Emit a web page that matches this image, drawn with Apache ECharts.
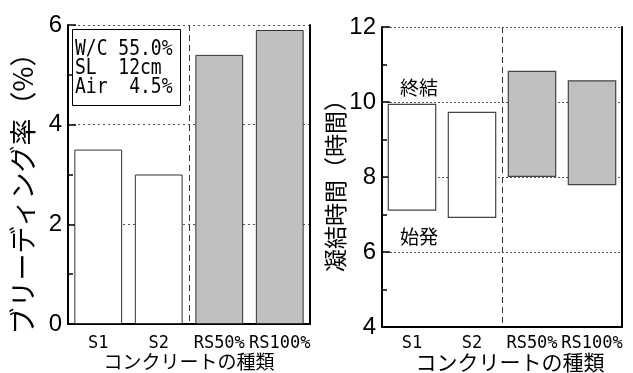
<!DOCTYPE html>
<html>
<head>
<meta charset="utf-8">
<script src="https://cdn.jsdelivr.net/npm/echarts@6/dist/echarts.min.js"></script>
<style>
  html, body { margin: 0; padding: 0; background: #fff; }
  #chart { width: 633px; height: 373px; }
</style>
</head>
<body>
<div id="chart"></div>
<script>
// Concrete types
const categories = ['S1', 'S2', 'RS50%', 'RS100%'];
// Bleeding rate (%)
const bleedingRate = [3.50, 3.00, 5.40, 5.90];
// Setting time (hours): initial set and final set
const initialSet = [7.10, 6.91, 8.00, 7.78];
const finalSet = [9.95, 9.74, 10.83, 10.58];
// Axis ranges
const bleedTicks = { min: 0, max: 6, interval: 2 };
const setTicks = { min: 4, max: 12, interval: 2 };
// Mix conditions shown in the note box
const mixNotes = ['W/C 55.0%', 'SL  12cm', 'Air  4.5%'];

const WHITE = '#ffffff';
const GREY = '#c0c0c0';
const fills = ['white', 'white', 'grey', 'grey'].map(k => (k === 'grey' ? GREY : WHITE));

const jpFont = '"Noto Sans CJK JP", sans-serif';
const monoFont = '"DejaVu Sans Mono", monospace';
const numFont = '"Liberation Sans", Arial, sans-serif';

function xAxisFor(gridIndex, margin) {
  return {
    type: 'category',
    gridIndex,
    data: categories,
    boundaryGap: true,
    axisLine: { lineStyle: { color: '#000', width: 2 } },
    axisTick: { show: false },
    axisLabel: { color: '#000', fontFamily: monoFont, fontSize: 17, margin, interval: 0 },
    splitLine: { show: false }
  };
}

// hidden linear axis spanning the four category slots; its middle split line
// separates the plain mixes from the recycled-sand mixes
function separatorAxis(gridIndex) {
  return {
    type: 'value',
    gridIndex,
    min: 0,
    max: 4,
    interval: 2,
    position: 'top',
    axisLine: { show: false },
    axisTick: { show: false },
    axisLabel: { show: false },
    splitLine: {
      show: true,
      showMinLine: false,
      showMaxLine: false,
      lineStyle: { color: '#333', type: [6, 4], width: 1 }
    }
  };
}

function yAxisFor(gridIndex, ticks, dash) {
  return {
    type: 'value',
    gridIndex,
    min: ticks.min,
    max: ticks.max,
    interval: ticks.interval,
    axisLine: { show: true, lineStyle: { color: '#000', width: 2 } },
    axisTick: { show: true, inside: true, length: 8, lineStyle: { color: '#000', width: 1.5 } },
    minorTick: { show: true, splitNumber: 2, length: 5, lineStyle: { color: '#000', width: 1.5 } },
    axisLabel: { color: '#000', fontFamily: numFont, fontSize: 24, margin: 6, padding: [0, 0, 7, 0] },
    splitLine: { show: true, lineStyle: { color: '#555', type: dash, width: 1 } }
  };
}

function rightFrame(gridIndex) {
  return {
    type: 'value',
    gridIndex,
    position: 'right',
    axisLine: { show: true, lineStyle: { color: '#000', width: 2 } },
    axisTick: { show: false },
    axisLabel: { show: false },
    splitLine: { show: false }
  };
}

const chart = echarts.init(document.getElementById('chart'), null, { renderer: 'canvas' });

chart.setOption({
  animation: false,
  backgroundColor: '#fff',
  grid: [
    { left: 68, top: 25, width: 242, height: 299 },
    { left: 382, top: 27, width: 240, height: 300 }
  ],
  xAxis: [xAxisFor(0, 11), xAxisFor(1, 8), separatorAxis(0), separatorAxis(1)],
  yAxis: [
    yAxisFor(0, bleedTicks, [2, 3]),
    yAxisFor(1, setTicks, [2, 2]),
    rightFrame(0),
    rightFrame(1)
  ],
  series: [
    {
      type: 'bar',
      xAxisIndex: 0,
      yAxisIndex: 0,
      barWidth: '79%',
      data: bleedingRate.map((v, i) => ({
        value: v,
        itemStyle: { color: fills[i], borderColor: '#333', borderWidth: 1 }
      }))
    },
    {
      // invisible base so the setting-time bars float from initial set
      type: 'bar',
      xAxisIndex: 1,
      yAxisIndex: 1,
      stack: 'setting',
      barWidth: '81%',
      silent: true,
      itemStyle: { color: 'transparent' },
      data: initialSet
    },
    {
      type: 'bar',
      xAxisIndex: 1,
      yAxisIndex: 1,
      stack: 'setting',
      barWidth: '81%',
      data: finalSet.map((v, i) => ({
        value: +(v - initialSet[i]).toFixed(3),
        itemStyle: { color: fills[i], borderColor: '#444', borderWidth: 1.2 }
      }))
    }
  ],
  graphic: [
    {
      type: 'rect',
      z: 10,
      shape: { x: 72.5, y: 29.5, width: 108, height: 76 },
      style: { fill: '#fff', stroke: '#000', lineWidth: 1 }
    },
    ...mixNotes.map((t, i) => ({
      type: 'text',
      z: 11,
      x: 75,
      y: 49 + i * 19.3,
      scaleY: 1.18,
      style: {
        text: t,
        font: '18px ' + monoFont,
        fill: '#000',
        align: 'left',
        verticalAlign: 'middle'
      }
    })),
    {
      type: 'text',
      x: 419,
      y: 88,
      style: { text: '終結', font: '19px ' + jpFont, fill: '#000', align: 'center', verticalAlign: 'middle' }
    },
    {
      type: 'text',
      x: 419,
      y: 237,
      style: { text: '始発', font: '19px ' + jpFont, fill: '#000', align: 'center', verticalAlign: 'middle' }
    },
    {
      type: 'text',
      x: 189,
      y: 362,
      style: { text: 'コンクリートの種類', font: '19px ' + jpFont, fill: '#000', align: 'center', verticalAlign: 'middle' }
    },
    {
      type: 'text',
      x: 510,
      y: 362,
      style: { text: 'コンクリートの種類', font: '21px ' + jpFont, fill: '#000', align: 'center', verticalAlign: 'middle' }
    },
    {
      type: 'text',
      x: 23,
      y: 187,
      rotation: Math.PI / 2,
      style: { text: 'ブリーディング率（%）', font: '27px ' + jpFont, fill: '#000', align: 'center', verticalAlign: 'middle' }
    },
    {
      type: 'text',
      x: 335,
      y: 180,
      rotation: Math.PI / 2,
      style: { text: '凝結時間（時間）', font: '23px ' + jpFont, fill: '#000', align: 'center', verticalAlign: 'middle' }
    }
  ]
});
</script>
</body>
</html>
